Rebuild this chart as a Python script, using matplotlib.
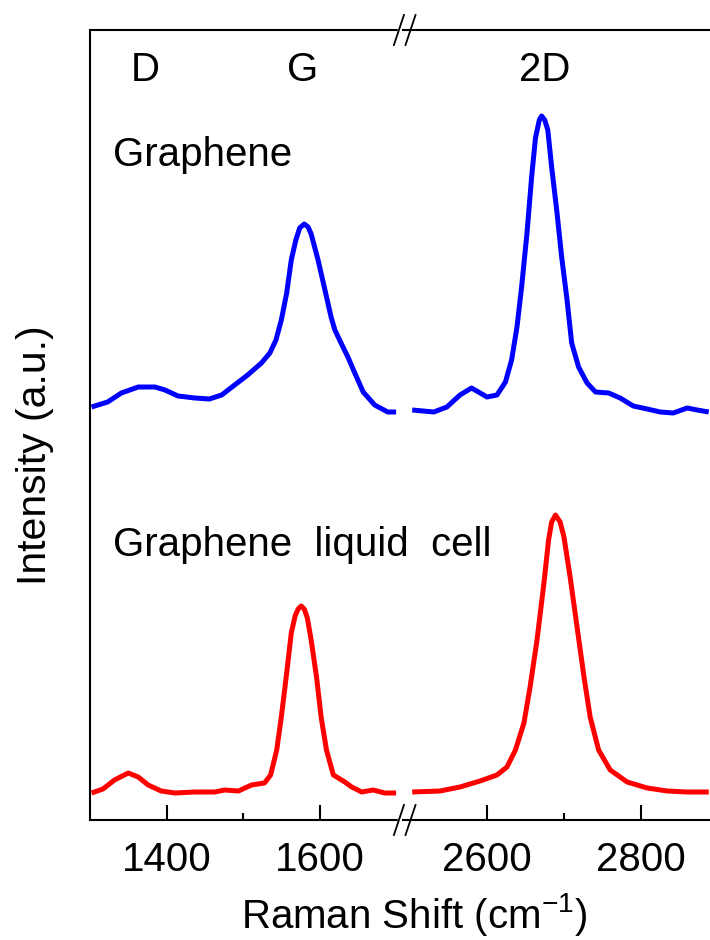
import matplotlib
matplotlib.use("Agg")
import matplotlib.pyplot as plt
from matplotlib.ticker import FixedLocator

plt.rcParams['font.family'] = ['Liberation Sans', 'DejaVu Sans']
plt.rcParams['mathtext.fontset'] = 'custom'
plt.rcParams['mathtext.rm'] = 'Liberation Sans'
plt.rcParams['mathtext.it'] = 'Liberation Sans'

# -------------------------------
# Data (intensity in a.u., graphene curve already offset)

# Graphene - D / G region
gr_low_x = [1302, 1323, 1341, 1363, 1385, 1398, 1415, 1437, 1456, 1472, 1489,
            1506, 1524, 1535, 1543, 1550, 1557, 1563, 1569, 1574, 1580, 1585,
            1589, 1598, 1607, 1615, 1620, 1628, 1637, 1646, 1657, 1672, 1689, 1700]
gr_low_y = [4.13, 4.18, 4.27, 4.33, 4.33, 4.30, 4.24, 4.22, 4.21, 4.25, 4.35,
            4.45, 4.57, 4.67, 4.80, 5.00, 5.27, 5.60, 5.80, 5.92, 5.96, 5.93,
            5.86, 5.60, 5.30, 5.03, 4.90, 4.77, 4.63, 4.47, 4.28, 4.15, 4.08, 4.08]

# Graphene - 2D region
gr_high_x = [2503, 2531, 2548, 2565, 2580, 2589, 2600, 2613, 2624, 2632, 2639,
             2645, 2652, 2658, 2663, 2668, 2671, 2675, 2679, 2684, 2691, 2697,
             2704, 2710, 2719, 2730, 2741, 2758, 2773, 2790, 2808, 2825, 2842,
             2860, 2873, 2888]
gr_high_y = [4.10, 4.08, 4.13, 4.25, 4.32, 4.28, 4.23, 4.25, 4.38, 4.60, 4.93,
             5.33, 5.87, 6.43, 6.82, 7.00, 7.04, 7.00, 6.90, 6.53, 6.07, 5.63,
             5.20, 4.77, 4.53, 4.37, 4.28, 4.27, 4.22, 4.14, 4.11, 4.08, 4.07,
             4.12, 4.10, 4.08]

# Graphene liquid cell - D / G region
glc_low_x = [1302, 1317, 1332, 1350, 1363, 1376, 1393, 1411, 1437, 1463, 1476,
             1494, 1511, 1528, 1536, 1544, 1550, 1557, 1563, 1568, 1572, 1576,
             1580, 1584, 1589, 1596, 1602, 1609, 1618, 1633, 1642, 1655, 1670,
             1685, 1700]
glc_low_y = [0.27, 0.31, 0.40, 0.47, 0.43, 0.35, 0.29, 0.27, 0.28, 0.28, 0.30,
             0.29, 0.35, 0.37, 0.45, 0.70, 1.03, 1.47, 1.87, 2.04, 2.11, 2.14,
             2.11, 2.02, 1.80, 1.43, 1.03, 0.70, 0.45, 0.38, 0.33, 0.28, 0.30,
             0.27, 0.27]

# Graphene liquid cell - 2D region
glc_high_x = [2503, 2539, 2565, 2591, 2613, 2626, 2637, 2648, 2656, 2665, 2674,
              2680, 2684, 2689, 2695, 2700, 2708, 2717, 2726, 2734, 2745, 2760,
              2782, 2808, 2834, 2860, 2888]
glc_high_y = [0.28, 0.29, 0.33, 0.39, 0.45, 0.53, 0.70, 0.97, 1.33, 1.80, 2.37,
              2.80, 2.98, 3.05, 2.98, 2.83, 2.43, 1.93, 1.43, 1.03, 0.70, 0.50,
              0.38, 0.32, 0.29, 0.28, 0.28]

low_major = [1400, 1600]
low_minor = [1500]
high_major = [2600, 2800]
high_minor = [2700]

peak_labels = ['D', 'G', '2D']
peak_pos = [1372, 1578, 2675]

FS = 29

# -------------------------------
# Figure with broken x axis

fig = plt.figure(figsize=(7.1, 9.4), dpi=100)

bottom = 1 - 820 / 940
height = (820 - 30) / 940
ax1 = fig.add_axes([90 / 710, bottom, 313 / 710, height])
ax2 = fig.add_axes([403 / 710, bottom, 315 / 710, height])
ax2.patch.set_visible(False)

line_kw = dict(linewidth=3.6, solid_joinstyle='round', solid_capstyle='butt')
ax1.plot(gr_low_x, gr_low_y, color='#0000FF', **line_kw)
ax1.plot(glc_low_x, glc_low_y, color='#FF0000', **line_kw)
ax2.plot(gr_high_x, gr_high_y, color='#0000FF', **line_kw)
ax2.plot(glc_high_x, glc_high_y, color='#FF0000', **line_kw)

ax1.set_xlim(1300, 1709)
ax2.set_xlim(2491, 2900)
for ax in (ax1, ax2):
    ax.set_ylim(0, 7.90)
    ax.set_yticks([])
    for s in ax.spines.values():
        s.set_linewidth(1.5)
    ax.tick_params(axis='x', which='major', direction='in', length=11,
                   width=1.5, labelsize=FS, pad=15)
    ax.tick_params(axis='x', which='minor', direction='in', length=5, width=1.5)

ax1.spines['right'].set_visible(False)
ax2.spines['left'].set_visible(False)

ax1.xaxis.set_major_locator(FixedLocator(low_major))
ax1.xaxis.set_minor_locator(FixedLocator(low_minor))
ax2.xaxis.set_major_locator(FixedLocator(high_major))
ax2.xaxis.set_minor_locator(FixedLocator(high_minor))

# break marks "//" on top and bottom spines, with a small gap in the spine
for yb in (0, 1):
    ax1.plot([0.987, 1.024], [yb, yb], transform=ax1.transAxes,
             color='white', linewidth=2.5, clip_on=False, zorder=5)
    for xc in (0.987, 1.024):
        ax1.plot([xc - 0.016, xc + 0.016], [yb - 0.019, yb + 0.019],
                 transform=ax1.transAxes, color='black', linewidth=1.3,
                 clip_on=False, zorder=6)

# peak labels
ax1.text(peak_pos[0], 7.5, peak_labels[0], fontsize=FS, ha='center', va='center')
ax1.text(peak_pos[1], 7.5, peak_labels[1], fontsize=FS, ha='center', va='center')
ax2.text(peak_pos[2], 7.5, peak_labels[2], fontsize=FS, ha='center', va='center')

# sample labels
ax1.text(1330, 6.65, 'Graphene', fontsize=FS, ha='left', va='center')
ax1.text(1330, 2.75, 'Graphene  liquid  cell', fontsize=FS, ha='left',
         va='center', clip_on=False)

fig.text(414 / 710, 1 - 928 / 940, 'Raman Shift (cm$^{-1}$)', fontsize=FS,
         ha='center', va='baseline')
fig.text(35 / 710, 1 - 455 / 940, 'Intensity (a.u.)', fontsize=29.5,
         ha='center', va='center', rotation=90)

plt.savefig('out.png', dpi=100)
